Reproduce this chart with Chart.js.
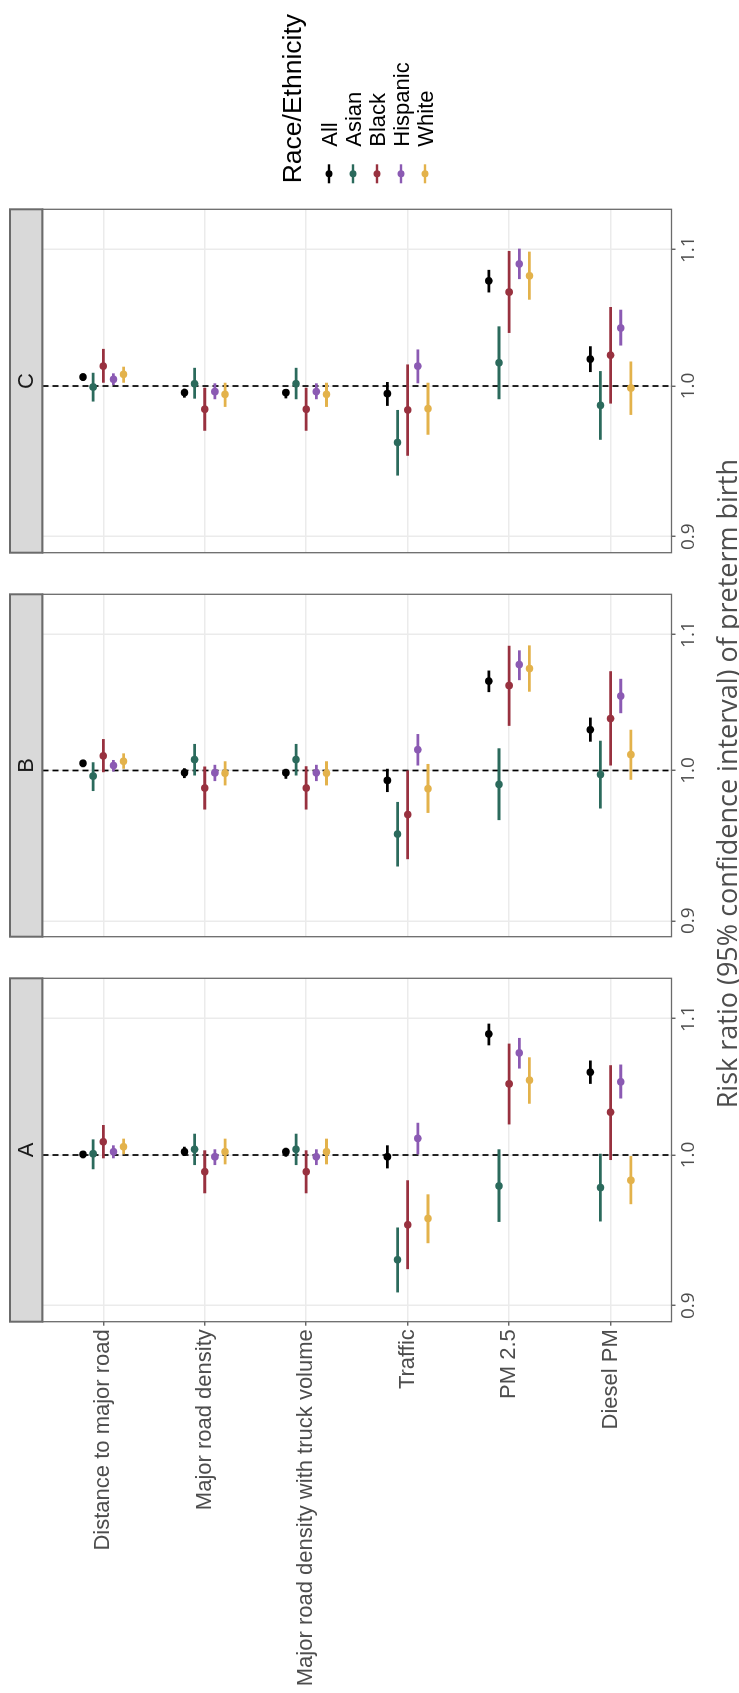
<!DOCTYPE html>
<html>
<head>
<meta charset="utf-8">
<script src="https://cdn.jsdelivr.net/npm/chart.js@4.4.1/dist/chart.umd.min.js"></script>
<style>
  html, body { margin: 0; padding: 0; background: #ffffff; width: 739px; height: 1693px; overflow: hidden; }
  /* the figure is laid out landscape and turned a quarter-turn counter-clockwise */
  #stage { position: absolute; left: 0; top: 0; width: 1693px; height: 739px;
           transform-origin: 0 0; transform: translate(0px, 1693px) rotate(-90deg); background: #ffffff; }
  #stage canvas { position: absolute; top: 0; }
  #xtitle { position: absolute; left: 584.7px; top: 713px; height: 28px; line-height: 27px;
            text-align: left; font-family: 'Open Sans', 'Noto Sans', sans-serif; font-size: 27px;
            color: #4d4d4d; white-space: nowrap; }
</style>
</head>
<body>
<div id="stage">
  <canvas id="panelA" width="740" height="739" style="left:0px"></canvas>
  <canvas id="panelB" width="380" height="739" style="left:740px"></canvas>
  <canvas id="panelC" width="573" height="739" style="left:1120px"></canvas>
  <div id="xtitle">Risk ratio (95% confidence interval) of preterm birth</div>
</div>
<script>
// exposures, top to bottom
const exposures = ['Distance to major road', 'Major road density', 'Major road density with truck volume',
                   'Traffic', 'PM 2.5', 'Diesel PM'];
const groups = ['All', 'Asian', 'Black', 'Hispanic', 'White'];
const groupColors = ['#000000', '#2b6a5c', '#98313f', '#8b5ab3', '#e3b24b'];
const riskTicks = [0.9, 1.0, 1.1];
const panelNames = ['A', 'B', 'C'];

// rows follow `groups`, columns follow `exposures`
const panelA_rr = [
  [1.0005, 1.0023, 1.0023, 0.9988, 1.0883, 1.0596],
  [1.0009, 1.0040, 1.0040, 0.9294, 0.9786, 0.9775],
  [1.0093, 0.9884, 0.9884, 0.9524, 1.0510, 1.0304],
  [1.0023, 0.9988, 0.9988, 1.0117, 1.0740, 1.0525],
  [1.0058, 1.0023, 1.0023, 0.9566, 1.0537, 0.9825]
];
const panelA_lower = [
  [0.9977, 0.9993, 0.9988, 0.9907, 1.0797, 1.0510],
  [0.9901, 0.9930, 0.9930, 0.9084, 0.9543, 0.9546],
  [0.9977, 0.9736, 0.9736, 0.9233, 1.0216, 0.9965],
  [0.9977, 0.9930, 0.9930, 1.0005, 1.0623, 1.0403],
  [1.0005, 0.9935, 0.9935, 0.9402, 1.0365, 0.9662]
];
const panelA_upper = [
  [1.0028, 1.0058, 1.0051, 1.0068, 1.0962, 1.0683],
  [1.0110, 1.0150, 1.0150, 0.9506, 1.0040, 1.0009],
  [1.0212, 1.0033, 1.0033, 0.9825, 1.0810, 1.0648],
  [1.0068, 1.0040, 1.0040, 1.0228, 1.0853, 1.0653],
  [1.0115, 1.0115, 1.0115, 0.9729, 1.0707, 0.9993]
];

const panelB_rr = [
  [1.0051, 0.9984, 0.9984, 0.9931, 1.0647, 1.0290],
  [0.9961, 1.0077, 1.0077, 0.9564, 0.9903, 0.9972],
  [1.0103, 0.9878, 0.9878, 0.9696, 1.0614, 1.0371],
  [1.0035, 0.9984, 0.9984, 1.0147, 1.0771, 1.0536],
  [1.0065, 0.9981, 0.9981, 0.9873, 1.0741, 1.0112]
];
const panelB_lower = [
  [1.0023, 0.9947, 0.9942, 0.9850, 1.0565, 1.0204],
  [0.9857, 0.9965, 0.9965, 0.9349, 0.9658, 0.9737],
  [0.9988, 0.9730, 0.9730, 0.9397, 1.0318, 1.0035],
  [0.9993, 0.9926, 0.9926, 1.0035, 1.0654, 1.0410],
  [1.0012, 0.9896, 0.9896, 0.9707, 1.0568, 0.9935]
];
const panelB_upper = [
  [1.0075, 1.0016, 1.0012, 1.0012, 1.0726, 1.0378],
  [1.0058, 1.0188, 1.0188, 0.9782, 1.0157, 1.0211],
  [1.0223, 1.0028, 1.0030, 1.0000, 1.0914, 1.0721],
  [1.0074, 1.0040, 1.0040, 1.0259, 1.0879, 1.0664],
  [1.0121, 1.0065, 1.0065, 1.0046, 1.0917, 1.0290]
];

const panelC_rr = [
  [1.0063, 0.9954, 0.9954, 0.9947, 1.0763, 1.0190],
  [0.9993, 1.0016, 1.0016, 0.9613, 1.0164, 0.9866],
  [1.0140, 0.9839, 0.9839, 0.9834, 1.0679, 1.0218],
  [1.0047, 0.9961, 0.9961, 1.0140, 1.0891, 1.0414],
  [1.0082, 0.9942, 0.9942, 0.9843, 1.0801, 0.9986]
];
const panelC_lower = [
  [1.0035, 0.9919, 0.9914, 0.9862, 1.0676, 1.0098],
  [0.9892, 0.9912, 0.9908, 0.9393, 0.9908, 0.9631],
  [1.0023, 0.9692, 0.9692, 0.9524, 1.0378, 0.9878],
  [1.0007, 0.9908, 0.9908, 1.0019, 1.0776, 1.0287],
  [1.0023, 0.9855, 0.9855, 0.9665, 1.0622, 0.9800]
];
const panelC_upper = [
  [1.0089, 0.9981, 0.9977, 1.0028, 1.0846, 1.0282],
  [1.0093, 1.0128, 1.0128, 0.9834, 1.0426, 1.0105],
  [1.0263, 0.9988, 0.9988, 1.0152, 1.0990, 1.0568],
  [1.0089, 1.0019, 1.0019, 1.0259, 1.1008, 1.0548],
  [1.0136, 1.0023, 1.0023, 1.0023, 1.0985, 1.0173]
];

const RR_MIN = 0.8908, RR_MAX = 1.1315;
const SANS = "'Liberation Sans', Arial, Helvetica, sans-serif";
const HUMANIST = "'Open Sans', 'Noto Sans', sans-serif";

// facet strip, panel frame and (on the last panel) the key
const facetFrame = {
  id: 'facetFrame',
  afterDraw(chart, args, opts) {
    const ctx = chart.ctx, a = chart.chartArea;
    ctx.save();
    const stripTop = 10;
    ctx.fillStyle = '#d9d9d9';
    ctx.fillRect(a.left, stripTop, a.right - a.left, a.top - stripTop);
    ctx.strokeStyle = '#6b6b6b';
    ctx.lineWidth = 2;
    ctx.strokeRect(a.left, stripTop, a.right - a.left, a.top - stripTop);
    ctx.fillStyle = '#1a1a1a';
    ctx.font = '22px ' + SANS;
    ctx.textAlign = 'center';
    ctx.textBaseline = 'middle';
    ctx.fillText(opts.label, (a.left + a.right) / 2, (stripTop + a.top) / 2 + 1);
    ctx.lineWidth = 1.3;
    ctx.strokeRect(a.left, a.top, a.right - a.left, a.bottom - a.top);

    if (opts.legendX !== undefined) {
      const x0 = opts.legendX;
      ctx.fillStyle = '#000000';
      ctx.font = '26.5px ' + SANS;
      ctx.textAlign = 'left';
      ctx.textBaseline = 'alphabetic';
      ctx.fillText('Race/Ethnicity', x0, 300.7);
      ctx.font = '22px ' + SANS;
      groups.forEach((g, i) => {
        const yc = 329 + i * 24;
        ctx.strokeStyle = groupColors[i];
        ctx.lineWidth = 2.4;
        ctx.beginPath();
        ctx.moveTo(x0, yc);
        ctx.lineTo(x0 + 19, yc);
        ctx.stroke();
        ctx.fillStyle = groupColors[i];
        ctx.beginPath();
        ctx.arc(x0 + 9.5, yc, 3.5, 0, Math.PI * 2);
        ctx.fill();
        ctx.fillStyle = '#000000';
        ctx.fillText(g, x0 + 36.6, yc + 7.7);
      });
    }
    ctx.restore();
  }
};

function buildDatasets(rr, lower, upper) {
  const ds = [];
  // reference line at a risk ratio of 1
  ds.push({
    type: 'line', data: [{ x: 1, y: 0.4 }, { x: 1, y: 6.6 }],
    borderColor: '#000000', borderWidth: 1.7, borderDash: [6, 4],
    pointRadius: 0, order: 100
  });
  groups.forEach((g, gi) => {
    const dodge = (gi - 2) * 0.1;
    exposures.forEach((e, ei) => {
      ds.push({
        type: 'line',
        data: [{ x: lower[gi][ei], y: ei + 1 + dodge }, { x: upper[gi][ei], y: ei + 1 + dodge }],
        borderColor: groupColors[gi], borderWidth: 2.8, pointRadius: 0,
        order: 50 - 2 * gi
      });
    });
    ds.push({
      type: 'scatter', label: g,
      data: exposures.map((e, ei) => ({ x: rr[gi][ei], y: ei + 1 + dodge })),
      backgroundColor: groupColors[gi], borderWidth: 0, pointRadius: 3.8,
      order: 49 - 2 * gi
    });
  });
  return ds;
}

function makePanel(canvasId, label, rr, lower, upper, cfg) {
  const showLabels = !!cfg.showLabels;
  return new Chart(document.getElementById(canvasId), {
    type: 'scatter',
    data: { datasets: buildDatasets(rr, lower, upper) },
    options: {
      responsive: false,
      animation: false,
      events: [],
      layout: { padding: { left: cfg.padLeft, right: cfg.padRight, top: 42.4, bottom: 0 } },
      plugins: {
        legend: { display: false },
        tooltip: { enabled: false },
        facetFrame: { label: label, legendX: cfg.legendX }
      },
      scales: {
        x: {
          type: 'logarithmic', min: RR_MIN, max: RR_MAX,
          afterBuildTicks: s => { s.ticks = riskTicks.map(v => ({ value: v })); },
          afterFit: s => { s.height = 67.5; },
          ticks: {
            callback: v => Number(v).toFixed(1),
            font: { family: HUMANIST, size: 19 }, color: '#4d4d4d',
            padding: 1.5, autoSkip: false, maxRotation: 0, minRotation: 0
          },
          grid: { color: '#ebebeb', lineWidth: 1.5, tickLength: 4, tickColor: '#555555', tickWidth: 1.3 },
          border: { display: false }
        },
        y: {
          type: 'linear', min: 0.4, max: 6.6, reverse: true,
          afterBuildTicks: s => { s.ticks = exposures.map((e, i) => ({ value: i + 1 })); },
          afterFit: s => { s.width = cfg.axisWidth; },
          ticks: {
            display: showLabels,
            callback: v => exposures[Math.round(v) - 1],
            font: { family: SANS, size: 22 }, color: '#4d4d4d',
            padding: 3.5, autoSkip: false
          },
          grid: { color: '#ebebeb', lineWidth: 1.5, drawTicks: showLabels, tickLength: 4, tickColor: '#555555', tickWidth: 1.3 },
          border: { display: false }
        }
      }
    },
    plugins: [facetFrame]
  });
}

makePanel('panelA', panelNames[0], panelA_rr, panelA_lower, panelA_upper,
  { showLabels: true, axisWidth: 371.3, padLeft: 0, padRight: 25.3 });
makePanel('panelB', panelNames[1], panelB_rr, panelB_lower, panelB_upper,
  { showLabels: false, axisWidth: 0, padLeft: 16.3, padRight: 21.3 });
makePanel('panelC', panelNames[2], panelC_rr, panelC_lower, panelC_upper,
  { showLabels: false, axisWidth: 0, padLeft: 20.3, padRight: 209.3, legendX: 389.7 });
</script>
</body>
</html>
